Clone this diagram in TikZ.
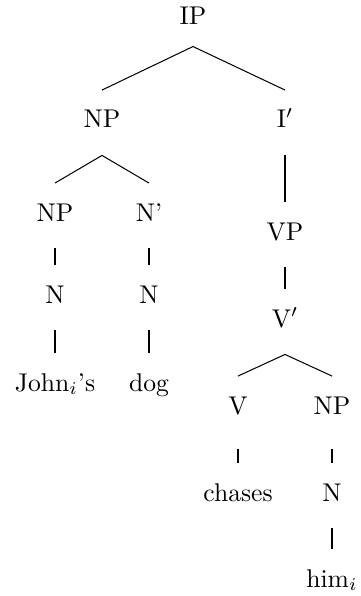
\documentclass[tikz,border=0pt]{standalone}
\usepackage{amsmath}

\begin{document}
\begin{tikzpicture}[x=0.39pt, y=-0.39pt,
    cat_style/.style={anchor=base, inner xsep=1pt, inner ysep=0pt, text height=14.6pt, text depth=10.5pt},
    branch_style/.style={black}
]
    % Fix the page size
    \useasboundingbox (0,0) rectangle (360,596);

    % Top of the tree
    \node (ip) at (193,25) [cat_style, text depth=8.2pt] {IP};
    \node (np_subj) at (102,128) [cat_style] {NP};
    \node (ibar) at (285,128) [cat_style] {I$'$};

    % Subject noun phrase
    \node (np_poss) at (55,221) [cat_style] {NP};
    \node (nbar) at (149,221) [cat_style] {N'};
    \node (n_poss) at (55,303) [cat_style] {N};
    \node (n_head) at (149,303) [cat_style] {N};
    \node (john) at (55,391) [cat_style] {John$_i$'s};
    \node (dog) at (149,391) [cat_style] {dog};

    % Verb phrase
    \node (vp) at (285,240) [cat_style] {VP};
    \node (vbar) at (285,327) [cat_style] {V$'$};
    \node (v) at (238,414) [cat_style, text depth=13.3pt] {V};
    \node (np_obj) at (332,414) [cat_style, text depth=13.3pt] {NP};
    \node (chases) at (238,501) [cat_style] {chases};
    \node (n_obj) at (332,501) [cat_style] {N};
    \node (him) at (332,587) [cat_style] {him$_i$};

    % Branches
    \draw[branch_style] (ip.south) -- (np_subj.north);
    \draw[branch_style] (ip.south) -- (ibar.north);
    \draw[branch_style] (np_subj.south) -- (np_poss.north);
    \draw[branch_style] (np_subj.south) -- (nbar.north);
    \draw[branch_style] (np_poss.south) -- (n_poss.north);
    \draw[branch_style] (nbar.south) -- (n_head.north);
    \draw[branch_style] (n_poss.south) -- (john.north);
    \draw[branch_style] (n_head.south) -- (dog.north);
    \draw[branch_style] (ibar.south) -- (vp.north);
    \draw[branch_style] (vp.south) -- (vbar.north);
    \draw[branch_style] (vbar.south) -- (v.north);
    \draw[branch_style] (vbar.south) -- (np_obj.north);
    \draw[branch_style] (v.south) -- (chases.north);
    \draw[branch_style] (np_obj.south) -- (n_obj.north);
    \draw[branch_style] (n_obj.south) -- (him.north);

\end{tikzpicture}
\end{document}
